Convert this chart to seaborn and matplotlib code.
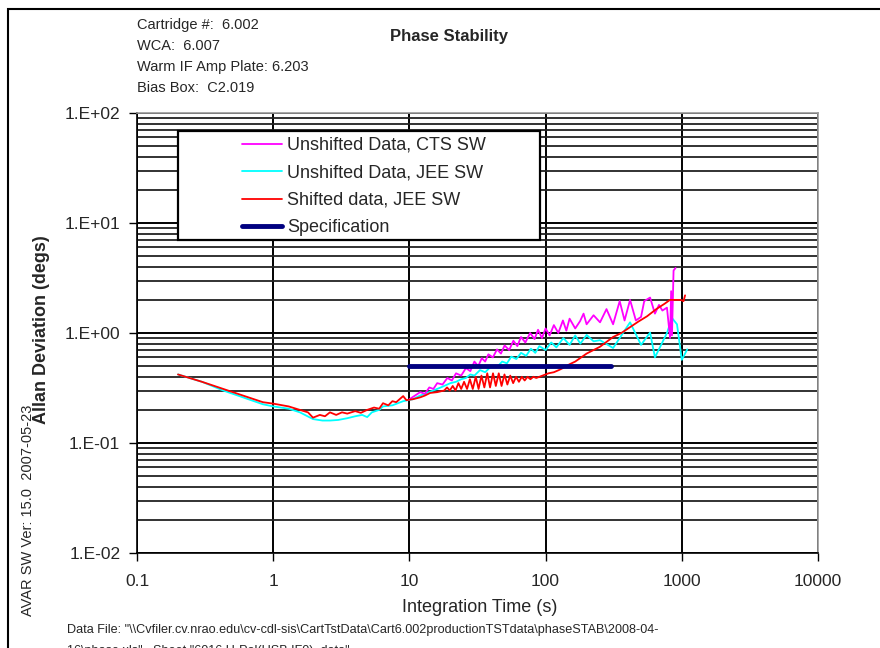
import numpy as np
import matplotlib
matplotlib.use("Agg")
import matplotlib.pyplot as plt
import seaborn as sns
from matplotlib.patches import Rectangle
from matplotlib.ticker import FixedLocator, FuncFormatter, LogLocator, NullLocator

# ---- data (integration time s, Allan deviation degs) ----
red_t = [0.2, 0.3, 0.43, 0.6, 0.84, 1.0, 1.3, 1.57, 1.8, 1.96, 2.2, 2.4, 2.61, 2.9, 3.2,
         3.5, 4.0, 4.4, 4.9, 5.5, 6.0, 6.4, 7.0, 7.5, 8.0, 9.0, 9.5, 10.6, 12, 13, 14.2, 16,
         18, 18.9, 19.8, 20.8, 21.8, 22.9, 24.0, 25.2, 26.5, 27.8, 29.2, 30.7, 32.2, 33.8,
         35.5, 37.3, 39.1, 41.1, 43.1, 45.3, 47.5, 49.9, 52.4, 55.0, 57.8, 60.7, 63.7, 66.9,
         70.2, 73.7, 77.4, 81.3, 85.4,
         95, 105, 115, 125, 134, 150, 165, 179, 200, 225, 251,
         280, 313, 360, 417, 480, 556, 650, 750, 819, 900, 980, 1030, 1057]
red_v = [0.42, 0.36, 0.31, 0.27, 0.235, 0.228, 0.215, 0.20, 0.19, 0.17, 0.18, 0.175, 0.19, 0.18, 0.19,
         0.185, 0.195, 0.188, 0.20, 0.21, 0.205, 0.23, 0.22, 0.24, 0.235, 0.267, 0.245, 0.25, 0.26, 0.27, 0.285, 0.29,
         0.30, 0.32, 0.30, 0.33, 0.30, 0.35, 0.31, 0.36, 0.31, 0.38, 0.31, 0.40, 0.31, 0.41,
         0.32, 0.43, 0.32, 0.43, 0.33, 0.43, 0.33, 0.42, 0.34, 0.41, 0.35, 0.40, 0.36, 0.40,
         0.37, 0.40, 0.38, 0.40, 0.39,
         0.41, 0.43, 0.44, 0.46, 0.48, 0.52, 0.55, 0.59, 0.65, 0.70, 0.75,
         0.83, 0.92, 1.0, 1.13, 1.27, 1.42, 1.65, 1.85, 2.0, 2.0, 2.0, 1.95, 2.2]

cyan_t = [0.2, 0.3, 0.43, 0.6, 0.84, 1.0, 1.3, 1.57, 1.96, 2.3, 2.61, 3.0, 3.5, 4.0, 4.5,
          4.9, 5.3, 6.0, 6.4, 7.5, 9.0, 10.6, 12, 14, 17, 20, 22, 24, 26, 28,
          30, 33, 36, 40, 44, 48, 52, 56, 61, 66, 72, 78, 84, 90, 100,
          110, 120, 135, 150, 165, 180, 200, 225, 251, 313, 417, 502, 585, 635, 778,
          847, 922, 1000, 1096]
cyan_v = [0.42, 0.36, 0.30, 0.26, 0.225, 0.215, 0.205, 0.19, 0.165, 0.16, 0.16, 0.162, 0.168, 0.175, 0.18,
          0.172, 0.19, 0.20, 0.215, 0.22, 0.24, 0.25, 0.27, 0.29, 0.32, 0.35, 0.36, 0.38, 0.39, 0.42,
          0.41, 0.46, 0.44, 0.50, 0.49, 0.55, 0.53, 0.61, 0.58, 0.66, 0.62, 0.72, 0.66, 0.76, 0.70,
          0.82, 0.74, 0.90, 0.78, 0.95, 0.80, 0.96, 0.84, 0.86, 0.73, 1.25, 0.78, 1.01, 0.60, 1.0,
          1.37, 1.2, 0.57, 0.71]

mag_t = [10, 11, 12, 13, 14, 15, 16, 17.5, 19, 20.5, 22, 24, 26, 28, 30,
         32, 34, 36, 38, 41, 44, 47, 50, 54, 58, 62, 66, 71, 77, 83,
         88, 94, 100, 107, 115, 124, 134, 142, 150, 165, 179, 190, 200, 225, 251,
         280, 313, 350, 380, 417, 460, 502, 530, 585, 635, 680, 720, 778, 820, 835,
         847, 870, 900]
mag_v = [0.25, 0.27, 0.29, 0.28, 0.32, 0.31, 0.35, 0.34, 0.39, 0.37, 0.43, 0.41, 0.48, 0.45, 0.55,
         0.50, 0.59, 0.55, 0.64, 0.60, 0.71, 0.65, 0.77, 0.70, 0.85, 0.76, 0.92, 0.82, 1.0, 0.88,
         1.07, 0.90, 1.1, 0.95, 1.18, 1.0, 1.3, 1.05, 1.35, 1.1, 1.28, 1.5, 1.2, 1.45, 1.25,
         1.65, 1.2, 1.95, 1.3, 2.0, 1.3, 1.4, 1.95, 2.1, 1.5, 1.8, 1.6, 1.7, 0.9, 2.4,
         0.95, 3.7, 3.9]

spec_t = [10, 300]
spec_v = [0.5, 0.5]

x_ticks = [0.1, 1, 10, 100, 1000, 10000]
x_labels = ["0.1", "1", "10", "100", "1000", "10000"]
y_ticks = [0.01, 0.1, 1, 10, 100]

sns.set_style("white")
plt.rcParams['font.family'] = ['Liberation Sans', 'DejaVu Sans']

W, H = 880, 648
fig = plt.figure(figsize=(8.8, 6.48), dpi=100)
ax = fig.add_axes([137 / W, 95 / H, 681 / W, 440 / H])

sns.lineplot(x=cyan_t, y=cyan_v, ax=ax, color='#00FFFF', lw=1.3, sort=False,
             estimator=None, label='Unshifted Data, JEE SW', zorder=3)
sns.lineplot(x=mag_t, y=mag_v, ax=ax, color='#FF00FF', lw=1.3, sort=False,
             estimator=None, label='Unshifted Data, CTS SW', zorder=3.2)
sns.lineplot(x=red_t, y=red_v, ax=ax, color='#FF0000', lw=1.3, sort=False,
             estimator=None, label='Shifted data, JEE SW', zorder=3.4)
sns.lineplot(x=spec_t, y=spec_v, ax=ax, color='#000080', lw=3.5, sort=False,
             estimator=None, label='Specification', zorder=3.6)

ax.set_xscale('log')
ax.set_yscale('log')
ax.set_xlim(0.1, 10000)
ax.set_ylim(0.01, 100)

ax.xaxis.set_major_locator(FixedLocator(x_ticks))
ax.xaxis.set_major_formatter(FuncFormatter(lambda v, p: x_labels[x_ticks.index(v)] if v in x_ticks else ""))
ax.xaxis.set_minor_locator(NullLocator())
ax.yaxis.set_major_locator(FixedLocator(y_ticks))
ax.yaxis.set_major_formatter(FuncFormatter(lambda v, p: f"1.E{int(round(np.log10(v))):+03d}"))
ax.yaxis.set_minor_locator(LogLocator(base=10, subs=np.arange(2, 10)))

ax.grid(which='major', axis='both', color='black', lw=1.4)
ax.grid(which='minor', axis='y', color='#222222', lw=1.3)
ax.tick_params(which='minor', length=0)
ax.tick_params(axis='y', which='major', left=True, direction='out', length=6, width=1,
               color='black', labelsize=12.5, pad=6)
ax.tick_params(axis='x', which='major', bottom=True, direction='out', length=6, width=1,
               color='black', labelsize=12.5, pad=9)
ax.set_xlabel("")
ax.set_ylabel("")
for side in ['left', 'bottom']:
    ax.spines[side].set_color('black')
    ax.spines[side].set_linewidth(1.2)
for side in ['top', 'right']:
    ax.spines[side].set_color('#999999')
    ax.spines[side].set_linewidth(1.2)

# legend box with white fill
ax.add_patch(Rectangle(((178 - 137) / 681, (553 - 240) / 440), (540 - 178) / 681, (240 - 131) / 440,
                       transform=ax.transAxes, facecolor='white', edgecolor='black', lw=1.6, zorder=2))
handles, labels = ax.get_legend_handles_labels()
order = ['Unshifted Data, CTS SW', 'Unshifted Data, JEE SW', 'Shifted data, JEE SW', 'Specification']
hmap = dict(zip(labels, handles))
leg = ax.legend([hmap[k] for k in order], order, loc='upper left',
                bbox_to_anchor=((242 - 137) / 681, (553 - 137) / 440), frameon=False,
                fontsize=13, handlelength=2.2, handletextpad=0.3, labelspacing=0.58, borderpad=0,
                borderaxespad=0)
leg.set_zorder(5)

# figure texts
def fy(py):
    return 1 - py / H

fig.text(137 / W, fy(25), "Cartridge #:  6.002", fontsize=10.5, va='center')
fig.text(137 / W, fy(46), "WCA:  6.007", fontsize=10.5, va='center')
fig.text(137 / W, fy(67), "Warm IF Amp Plate: 6.203", fontsize=10.5, va='center')
fig.text(137 / W, fy(88), "Bias Box:  C2.019", fontsize=10.5, va='center')
fig.text(449 / W, fy(37), "Phase Stability", fontsize=12, fontweight='bold', ha='center', va='center')
fig.text(42 / W, fy(330), "Allan Deviation (degs)", fontsize=13, fontweight='bold',
         rotation=90, ha='center', va='center')
fig.text(28 / W, fy(510), "AVAR SW Ver: 15.0  2007-05-23", fontsize=10.5,
         rotation=90, ha='center', va='center')
fig.text(480 / W, fy(607), "Integration Time (s)", fontsize=13, ha='center', va='center')
fig.text(67 / W, fy(630),
         'Data File: "\\\\Cvfiler.cv.nrao.edu\\cv-cdl-sis\\CartTstData\\Cart6.002productionTSTdata\\phaseSTAB\\2008-04-',
         fontsize=9.1, va='center')
fig.text(67 / W, fy(651), '16\\phase.xls",  Sheet "6016 H-Pol(USB IF0)_data"', fontsize=9.1, va='center')

# outer chart border (only top and left visible)
fig.add_artist(Rectangle((8 / W, -0.1), 1.2, fy(9) + 0.1, transform=fig.transFigure,
                         fill=False, edgecolor='black', lw=1.5))

fig.savefig("out.png", dpi=100)
